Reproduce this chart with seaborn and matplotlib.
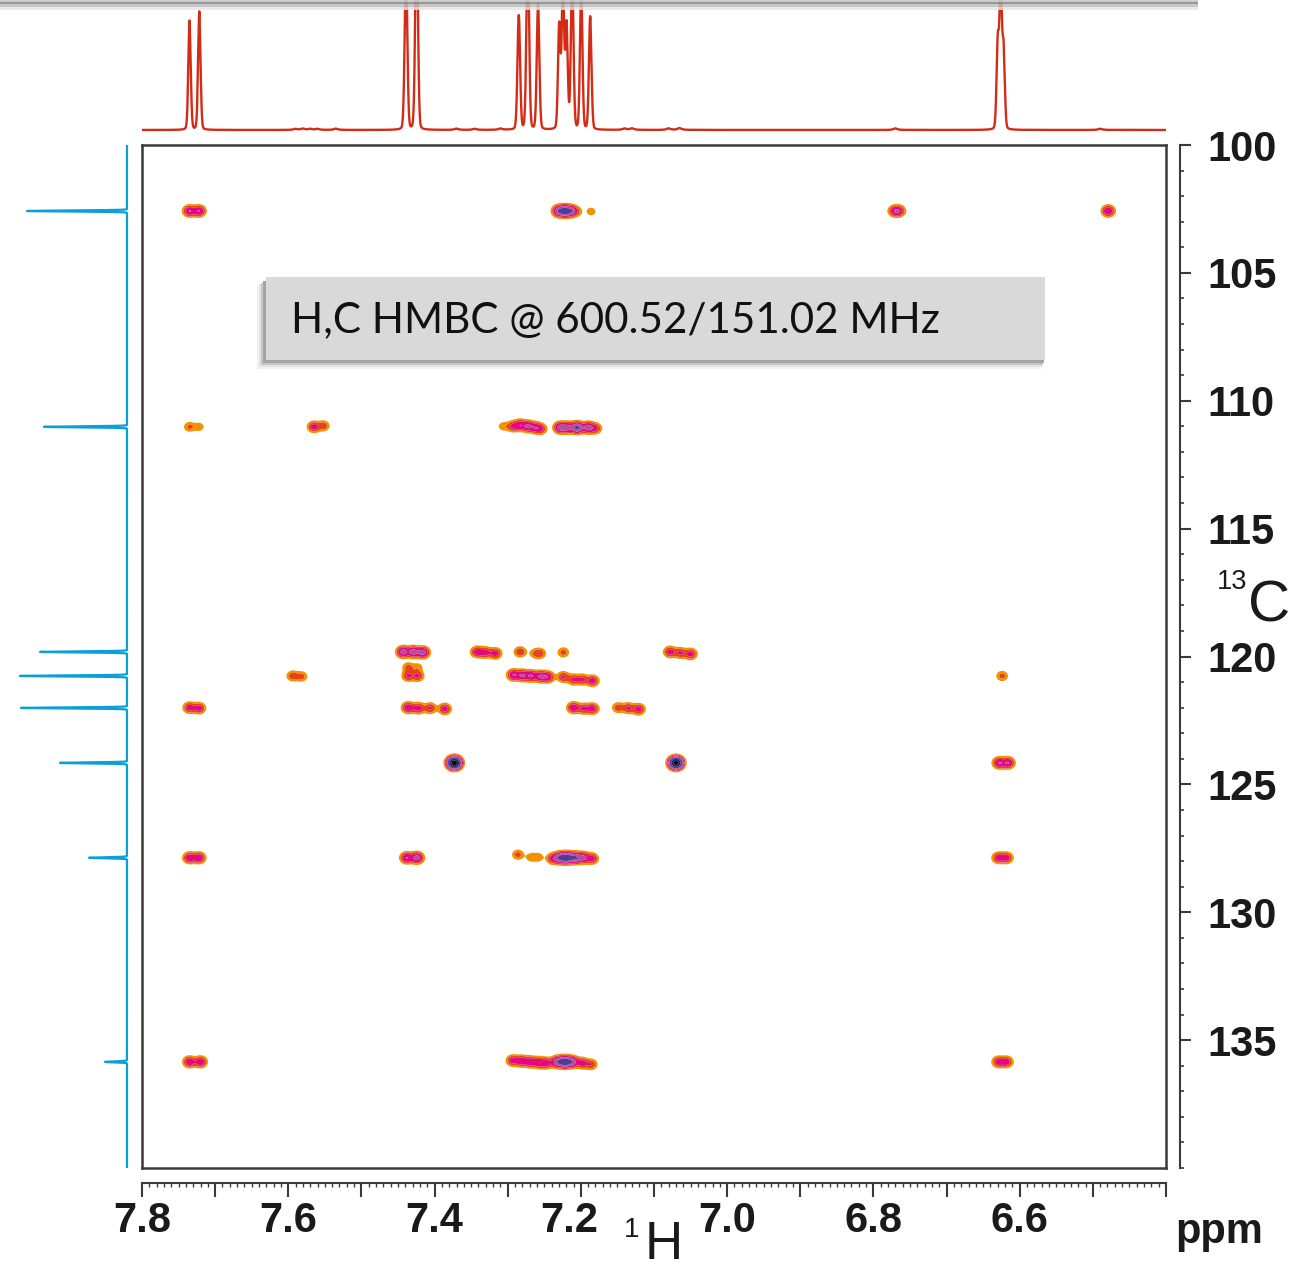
import numpy as np
import matplotlib
matplotlib.use("Agg")
import matplotlib.pyplot as plt
import seaborn as sns
from matplotlib.patches import Rectangle
from matplotlib.ticker import MultipleLocator
from matplotlib.transforms import ScaledTranslation

# ------------------------------------------------------------------ data
# 1H projection (top): peak positions (ppm) and heights (fraction of panel)
h_peak_ppm = [7.7350, 7.7216, 7.4400, 7.4385, 7.4255, 7.4240,
              7.2855, 7.2843, 7.2735, 7.2720, 7.2590, 7.2580,
              7.2296, 7.2245, 7.2195, 7.2125, 7.2113, 7.1995, 7.1877, 7.1867,
              6.6300, 6.6260, 6.6220]
h_peak_int = [0.84, 0.91, 0.50, 0.85, 0.70, 1.05,
              0.45, 0.50, 0.60, 0.95, 0.50, 0.52,
              0.80, 1.10, 0.80, 0.60, 0.68, 1.10, 0.45, 0.47,
              0.66, 1.10, 0.60]
h_small_ppm = [7.590, 7.580, 7.570, 7.560, 7.535, 7.370, 7.345, 7.310,
               7.140, 7.130, 7.080, 7.065, 6.770, 6.490]
h_small_int = [0.008, 0.010, 0.008, 0.008, 0.010, 0.010, 0.008, 0.010,
               0.010, 0.012, 0.012, 0.015, 0.012, 0.010]

# 13C projection (left): peak positions (ppm) and heights
c_peak_ppm = [102.58, 111.02, 119.82, 120.76, 122.01, 124.16, 127.87, 135.85]
c_peak_int = [0.787, 0.654, 0.685, 0.843, 0.835, 0.528, 0.299, 0.173]

# HMBC cross peaks: 1H ppm, 13C ppm, intensity
cross_h = [
    # 102.6
    7.735, 7.722, 7.230, 7.222, 7.214, 7.206, 7.186, 6.771, 6.765, 6.479,
    # 111.0
    7.735, 7.722, 7.565, 7.552, 7.306, 7.293, 7.283, 7.272, 7.262, 7.255,
    7.228, 7.218, 7.205, 7.190, 7.180,
    # 119.8
    7.443, 7.429, 7.416, 7.342, 7.331, 7.317, 7.283, 7.263, 7.256, 7.224,
    7.078, 7.064, 7.050,
    # 120.4
    7.436, 7.423,
    # 120.8
    7.436, 7.423, 7.292, 7.280, 7.268, 7.255, 7.245, 7.224, 7.210, 7.198,
    7.184, 7.594, 7.582, 6.624,
    # 122.0
    7.735, 7.722, 7.436, 7.422, 7.406, 7.386, 7.210, 7.196, 7.184,
    7.149, 7.135, 7.121,
    # 124.2
    7.373, 7.070, 6.628, 6.616,
    # 127.9
    7.735, 7.722, 7.438, 7.424, 7.286, 7.268, 7.258, 7.238, 7.228, 7.219,
    7.208, 7.197, 7.185, 6.629, 6.618,
    # 135.9
    7.735, 7.720, 7.293, 7.281, 7.269, 7.257, 7.247, 7.232, 7.222, 7.212,
    7.198, 7.186, 6.629, 6.618,
]
cross_c = [
    102.58, 102.58, 102.58, 102.58, 102.58, 102.60, 102.60, 102.58, 102.58, 102.58,
    111.02, 111.02, 111.02, 110.98, 111.00, 111.00, 110.95, 111.00, 111.05, 111.10,
    111.05, 111.05, 111.05, 111.05, 111.08,
    119.82, 119.82, 119.84, 119.82, 119.84, 119.88, 119.82, 119.88, 119.88, 119.84,
    119.82, 119.86, 119.90,
    120.43, 120.43,
    120.76, 120.76, 120.72, 120.74, 120.76, 120.78, 120.80, 120.80, 120.90, 120.90,
    120.95, 120.76, 120.78, 120.76,
    122.00, 122.02, 122.00, 122.02, 122.02, 122.05, 122.00, 122.04, 122.04,
    122.00, 122.02, 122.06,
    124.16, 124.16, 124.16, 124.16,
    127.87, 127.87, 127.87, 127.87, 127.75, 127.85, 127.85, 127.90, 127.87, 127.87,
    127.87, 127.87, 127.90, 127.87, 127.87,
    135.85, 135.85, 135.80, 135.82, 135.85, 135.88, 135.90, 135.85, 135.85, 135.85,
    135.90, 135.95, 135.85, 135.85,
]
cross_amp = [
    7, 7, 10, 14, 10, 2, 1.4, 5, 5, 7,
    2.2, 1.5, 5, 3, 1.5, 4, 6, 7, 5, 4,
    9, 8, 14, 9, 4,
    9, 9, 9, 5, 5, 5, 3.5, 1.6, 3, 2.5,
    5, 4, 5,
    2.5, 1.5,
    4, 4, 7, 7, 7, 7, 6, 4, 4, 4,
    5, 3, 2.5, 2.5,
    5, 5, 6, 5, 4, 5, 6, 4, 5,
    3, 4, 5,
    60, 55, 7, 7,
    6, 6, 7, 9, 2.5, 1.5, 1.5, 5, 12, 16,
    12, 8, 5, 5, 5,
    6, 6, 5, 6, 6, 6, 5, 10, 18, 10,
    5, 3.5, 5, 5,
]

contour_levels = [0.7, 1.8, 3.5, 7, 12, 25, 45, 1e5]
contour_colors = ["#f39200", "#e2441a", "#e3087f", "#ad519c",
                  "#4d3d98", "#2a2560", "#080808"]

x_major = [7.8, 7.7, 7.6, 7.5, 7.4, 7.3, 7.2, 7.1, 7.0, 6.9, 6.8, 6.7, 6.6, 6.5, 6.4]
x_labels = ["7.8", "", "7.6", "", "7.4", "", "7.2", "", "7.0", "", "6.8", "", "6.6", "", ""]
y_major = [100, 105, 110, 115, 120, 125, 130, 135]
y_labels = ["100", "105", "110", "115", "120", "125", "130", "135"]
title_text = "H,C HMBC @ 600.52/151.02 MHz"

# ------------------------------------------------------------------ style
sns.set_theme(style="white")
plt.rcParams["font.family"] = ["Liberation Sans", "DejaVu Sans"]

W, H = 1298, 1272
fig = plt.figure(figsize=(W / 100, H / 100), dpi=100)
fig.patch.set_facecolor("white")


def box(x0, y0, x1, y1):
    return [x0 / W, 1 - y1 / H, (x1 - x0) / W, (y1 - y0) / H]


FRAME = "#3a3a3a"
RED = "#d42b16"
BLUE = "#0a9fd6"

# ------------------------------------------------------------------ main 2D
ax = fig.add_axes(box(142, 145, 1166, 1168))
hx = np.linspace(6.4, 7.8, 1500)
cy = np.linspace(100, 140, 1100)
sig_h, sig_c = 0.0050, 0.125
Z = np.zeros((cy.size, hx.size))
for h, c, a in zip(cross_h, cross_c, cross_amp):
    gx = np.exp(-((hx - h) ** 2) / (2 * sig_h ** 2))
    gy = np.exp(-((cy - c) ** 2) / (2 * sig_c ** 2))
    Z += a * np.outer(gy, gx)
ax.contourf(hx, cy, Z, levels=contour_levels, colors=contour_colors, antialiased=True)
ax.set_xlim(7.8, 6.4)
ax.set_ylim(140, 100)
ax.set_xticks([])
ax.set_yticks([])
ax.set_facecolor("white")
for s in ax.spines.values():
    s.set_visible(True)
    s.set_color(FRAME)
    s.set_linewidth(1.8)

# ------------------------------------------------------------------ top 1H
axt = fig.add_axes(box(142, 0, 1166, 134))
hg = np.linspace(6.4, 7.8, 10000)
spec_h = np.zeros_like(hg)
sg, gam = 0.0017, 0.0015
for p, i in zip(h_peak_ppm, h_peak_int):
    spec_h += i * (0.8 * np.exp(-((hg - p) ** 2) / (2 * sg ** 2))
                   + 0.2 * gam ** 2 / ((hg - p) ** 2 + gam ** 2))
gam2 = 0.003
for p, i in zip(h_small_ppm, h_small_int):
    spec_h += i * gam2 ** 2 / ((hg - p) ** 2 + gam2 ** 2)
sns.lineplot(x=hg, y=spec_h, ax=axt, color=RED, linewidth=1.7,
             estimator=None, sort=False)
axt.set_xlim(7.8, 6.4)
axt.set_ylim(-0.031, 1.0)
axt.axis("off")

# ------------------------------------------------------------------ left 13C
axl = fig.add_axes(box(0, 145, 130, 1168))
cg = np.linspace(100, 140, 16001)
spec_c = np.zeros_like(cg)
sc = 0.02
for p, i in zip(c_peak_ppm, c_peak_int):
    spec_c += i * np.exp(-((cg - p) ** 2) / (2 * sc ** 2))
sns.lineplot(x=spec_c, y=cg, ax=axl, color=BLUE, linewidth=1.6,
             estimator=None, sort=False, orient="y")
axl.set_xlim(1.0, -0.0236)
axl.set_ylim(140, 100)
axl.axis("off")

# ------------------------------------------------------------------ right 13C scale
axr = fig.add_axes(box(1170, 145, 1180, 1168))
axr.set_facecolor("none")
axr.set_ylim(140, 100)
axr.set_xticks([])
for k in ["left", "top", "bottom"]:
    axr.spines[k].set_visible(False)
axr.spines["right"].set_visible(True)
axr.spines["right"].set_color(FRAME)
axr.spines["right"].set_linewidth(1.5)
axr.yaxis.tick_right()
axr.set_yticks(y_major)
axr.set_yticklabels(y_labels, fontsize=30, fontweight="bold", color="#1a1a1a")
axr.yaxis.set_minor_locator(MultipleLocator(1))
axr.tick_params(axis="y", which="major", direction="out", length=8, width=1.5,
                color=FRAME, pad=12, right=True, left=False)
axr.tick_params(axis="y", which="minor", direction="out", length=2.6, width=1.2,
                color=FRAME, right=True, left=False)

# ------------------------------------------------------------------ bottom 1H scale
axb = fig.add_axes(box(142, 1173, 1166, 1183))
axb.set_facecolor("none")
axb.set_xlim(7.8, 6.4)
axb.set_yticks([])
for k in ["left", "top", "right"]:
    axb.spines[k].set_visible(False)
axb.spines["bottom"].set_visible(True)
axb.spines["bottom"].set_color(FRAME)
axb.spines["bottom"].set_linewidth(1.5)
axb.set_xticks(x_major)
axb.set_xticklabels(x_labels, fontsize=30, fontweight="bold", color="#1a1a1a")
axb.xaxis.set_minor_locator(MultipleLocator(0.01))
axb.tick_params(axis="x", which="major", direction="out", length=10, width=1.5,
                color=FRAME, pad=3, bottom=True, top=False)
axb.tick_params(axis="x", which="minor", direction="out", length=3, width=1.0,
                color=FRAME, bottom=True, top=False)
lab72 = axb.xaxis.get_major_ticks()[6].label1
lab72.set_transform(lab72.get_transform() + ScaledTranslation(-0.12, 0, fig.dpi_scale_trans))

# ------------------------------------------------------------------ axis titles
fig.text(1175 / W, 1 - 1242.5 / H, "ppm", fontsize=30, fontweight="bold",
         ha="left", va="baseline", color="#1a1a1a")
fig.text(632 / W, 1 - 1237 / H, "1", fontsize=20, ha="center", va="baseline", color="#1a1a1a")
fig.text(663.5 / W, 1 - 1259 / H, "H", fontsize=38, ha="center", va="baseline", color="#1a1a1a")
fig.text(1232 / W, 1 - 589 / H, "13", fontsize=19.5, ha="center", va="baseline", color="#1a1a1a")
fig.text(1269 / W, 1 - 621 / H, "C", fontsize=42, ha="center", va="baseline", color="#1a1a1a")

# ------------------------------------------------------------------ annotation box
def frect(x0, y0, x1, y1, color, z, alpha=1.0):
    b = box(x0, y0, x1, y1)
    fig.add_artist(Rectangle((b[0], b[1]), b[2], b[3], transform=fig.transFigure,
                             facecolor=color, edgecolor="none", zorder=z, alpha=alpha))

frect(257, 285, 1041, 369, "#f1f1f1", 5)
frect(259, 284, 1042, 367, "#e2e2e2", 5)
frect(261, 283, 1043, 365, "#c6c6c6", 5)
frect(263, 281, 1044, 363, "#a3a3a3", 5)
frect(266, 277, 1045, 360, "#d9d9d9", 6)
t = fig.text(291 / W, 1 - 332 / H, title_text, fontsize=34, ha="left", va="baseline",
             color="#111111", zorder=7, fontfamily=["Lato", "DejaVu Sans"])
fig.canvas.draw()
bb = t.get_window_extent(fig.canvas.get_renderer())
t.set_fontsize(34 * 650.0 / bb.width)

# ------------------------------------------------------------------ top shadow band
frect(0, 0, 1198, 3, "#c8c8c8", 10, 0.9)
frect(0, 2, 1198, 4, "#8e8e8e", 10, 0.9)
frect(0, 4, 1198, 7, "#bdbdbd", 10, 0.85)
frect(0, 7, 1198, 10, "#e4e4e4", 10, 0.8)

fig.savefig("out.png", dpi=100, facecolor="white")
